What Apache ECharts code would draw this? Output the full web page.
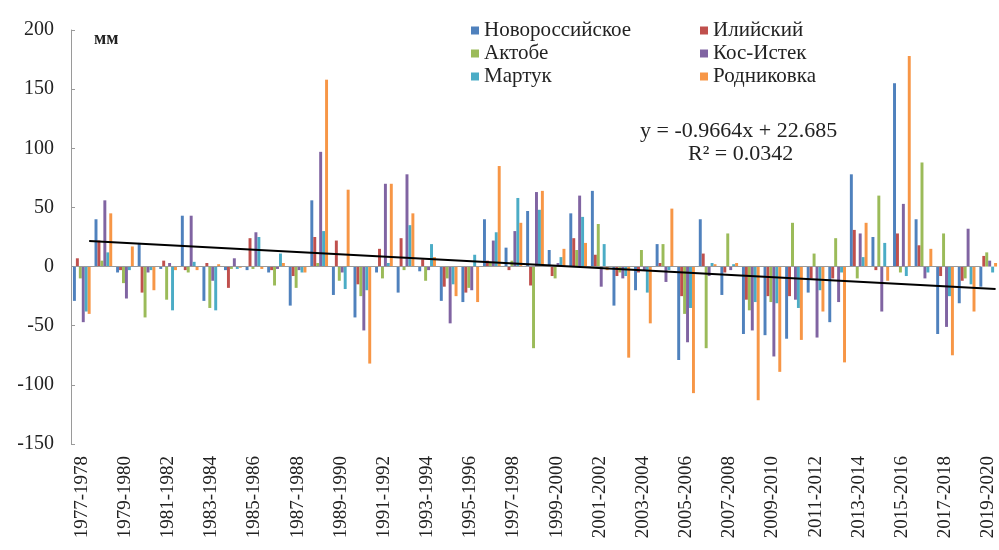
<!DOCTYPE html>
<html>
<head>
<meta charset="utf-8">
<script src="https://cdn.jsdelivr.net/npm/echarts@6/dist/echarts.min.js"></script>
<style>
html,body{margin:0;padding:0;background:#fff;}
#chart{width:999px;height:550px;}
</style>
</head>
<body>
<div id="chart"></div>
<script>
var categories = ['1977-1978','1978-1979','1979-1980','1980-1981','1981-1982','1982-1983','1983-1984','1984-1985','1985-1986','1986-1987','1987-1988','1988-1989','1989-1990','1990-1991','1991-1992','1992-1993','1993-1994','1994-1995','1995-1996','1996-1997','1997-1998','1998-1999','1999-2000','2000-2001','2001-2002','2002-2003','2003-2004','2004-2005','2005-2006','2006-2007','2007-2008','2008-2009','2009-2010','2010-2011','2011-2012','2012-2013','2013-2014','2014-2015','2015-2016','2016-2017','2017-2018','2018-2019','2019-2020'];

var novorossiyskoe = [-29,40,-5,20,-2,43,-29,-3,-3,-5,-33,56,-24,-43,-5,-22,-4,-29,-30,40,16,47,14,45,64,-33,-20,19,-79,40,-24,-57,-58,-61,-22,-47,78,25,155,40,-57,-31,-17];
var iliyskiy      = [7,22,-3,-22,5,-3,3,-18,24,-3,-8,25,22,-15,15,24,6,-17,-22,5,-3,-16,-8,24,10,-8,-5,3,-25,11,-5,-28,-25,-25,-10,-10,31,-3,28,18,-8,-12,9];
var aktobe        = [-10,5,-14,-43,-28,-5,-35,-2,-2,-16,-18,3,-12,-25,-10,-3,-12,-10,-18,3,5,-69,-10,14,36,-5,14,19,-40,-69,28,-37,-30,37,11,24,-10,60,-5,88,28,-10,12];
var kosIstek      = [-47,56,-27,-5,3,43,-12,7,29,-2,-3,97,-5,-54,70,78,-3,-48,-20,22,30,63,3,60,-17,-10,-3,-13,-64,-8,-3,-54,-76,-28,-60,-30,28,-38,53,-10,-51,32,5];
var martuk        = [-38,12,-3,-3,-37,4,-37,-2,25,11,-5,30,-19,-20,3,35,19,-15,10,29,58,48,8,42,19,-8,-22,-3,-35,3,2,-30,-31,-35,-20,-5,8,20,-8,-5,-25,-15,-5];
var rodnikovka    = [-40,45,17,-20,-3,-3,2,-1,-2,3,-5,158,65,-82,70,45,8,-25,-30,85,37,64,15,20,-3,-77,-48,49,-107,2,3,-113,-89,-62,-38,-81,37,-12,178,15,-75,-38,3];

var seriesNames = ['Новороссийское','Илийский','Актобе','Кос-Истек','Мартук','Родниковка'];
var seriesData = [novorossiyskoe, iliyskiy, aktobe, kosIstek, martuk, rodnikovka];
var seriesColors = ['#4F81BD','#C0504D','#9BBB59','#8064A2','#4BACC6','#F79646'];

// linear trend end values (y = -0.9664x + 22.685 at first and last category)
var trendEnds = [21.72, -18.87];
var trendText = 'y = -0.9664x + 22.685';
var r2Text = 'R² = 0.0342';

var yTicks = {min: -150, max: 200, interval: 50};

var chart = echarts.init(document.getElementById('chart'), null, {renderer: 'canvas'});
var FONT = '"Liberation Serif", "DejaVu Serif", serif';
var TXT = '#222';

var series = seriesNames.map(function (name, i) {
  var s = {
    name: name,
    type: 'bar',
    data: seriesData[i],
    itemStyle: {color: seriesColors[i]},
    barGap: '0%',
    barCategoryGap: '18%',
    silent: true
  };
  if (i === 0) {
    s.markLine = {
      silent: true,
      symbol: 'none',
      label: {show: false},
      animation: false,
      data: [
        [{coord: [0, 0], lineStyle: {color: '#9a9a9a', width: 1, type: 'solid'}}, {coord: [categories.length - 1, 0]}]
      ]
    };
  }
  if (i === 5) {
    s.markLine = {
      silent: true,
      symbol: 'none',
      label: {show: false},
      animation: false,
      z: 10,
      data: [
        [{coord: [0, trendEnds[0]], lineStyle: {color: '#000', width: 2, type: 'solid'}},
         {coord: [categories.length - 1, trendEnds[1]]}]
      ]
    };
  }
  return s;
});

var option = {
  animation: false,
  backgroundColor: '#ffffff',
  grid: {left: 71, top: 30, width: 935, height: 414, containLabel: false},
  legend: [
    {
      data: [seriesNames[0], seriesNames[2], seriesNames[4]],
      orient: 'vertical', left: 466, top: 15,
      itemWidth: 8, itemHeight: 8, itemGap: 2, icon: 'rect',
      textStyle: {fontFamily: FONT, fontSize: 21, color: TXT, lineHeight: 20}
    },
    {
      data: [seriesNames[1], seriesNames[3], seriesNames[5]],
      orient: 'vertical', left: 695, top: 15,
      itemWidth: 8, itemHeight: 8, itemGap: 2, icon: 'rect',
      textStyle: {fontFamily: FONT, fontSize: 21, color: TXT, lineHeight: 20}
    }
  ],
  xAxis: {
    type: 'category',
    data: categories,
    axisLine: {show: false},
    axisTick: {show: false},
    axisLabel: {
      interval: 1, rotate: 90, margin: 12,
      fontFamily: FONT, fontSize: 19, color: TXT
    }
  },
  yAxis: {
    type: 'value',
    min: yTicks.min, max: yTicks.max, interval: yTicks.interval,
    axisLine: {show: true, lineStyle: {color: '#9a9a9a', width: 1}},
    axisTick: {show: true, inside: true, length: 4, lineStyle: {color: '#9a9a9a'}},
    splitLine: {show: false},
    axisLabel: {margin: 17, fontFamily: FONT, fontSize: 20, color: TXT}
  },
  graphic: [
    {type: 'text', left: 94, top: 30, style: {text: 'мм', font: 'bold 18px ' + FONT, fill: TXT}},
    {type: 'text', left: 640, top: 120, style: {text: trendText, font: '22px ' + FONT, fill: TXT}},
    {type: 'text', left: 688, top: 143, style: {text: r2Text, font: '22px ' + FONT, fill: TXT}}
  ],
  series: series
};
chart.setOption(option);
</script>
</body>
</html>
